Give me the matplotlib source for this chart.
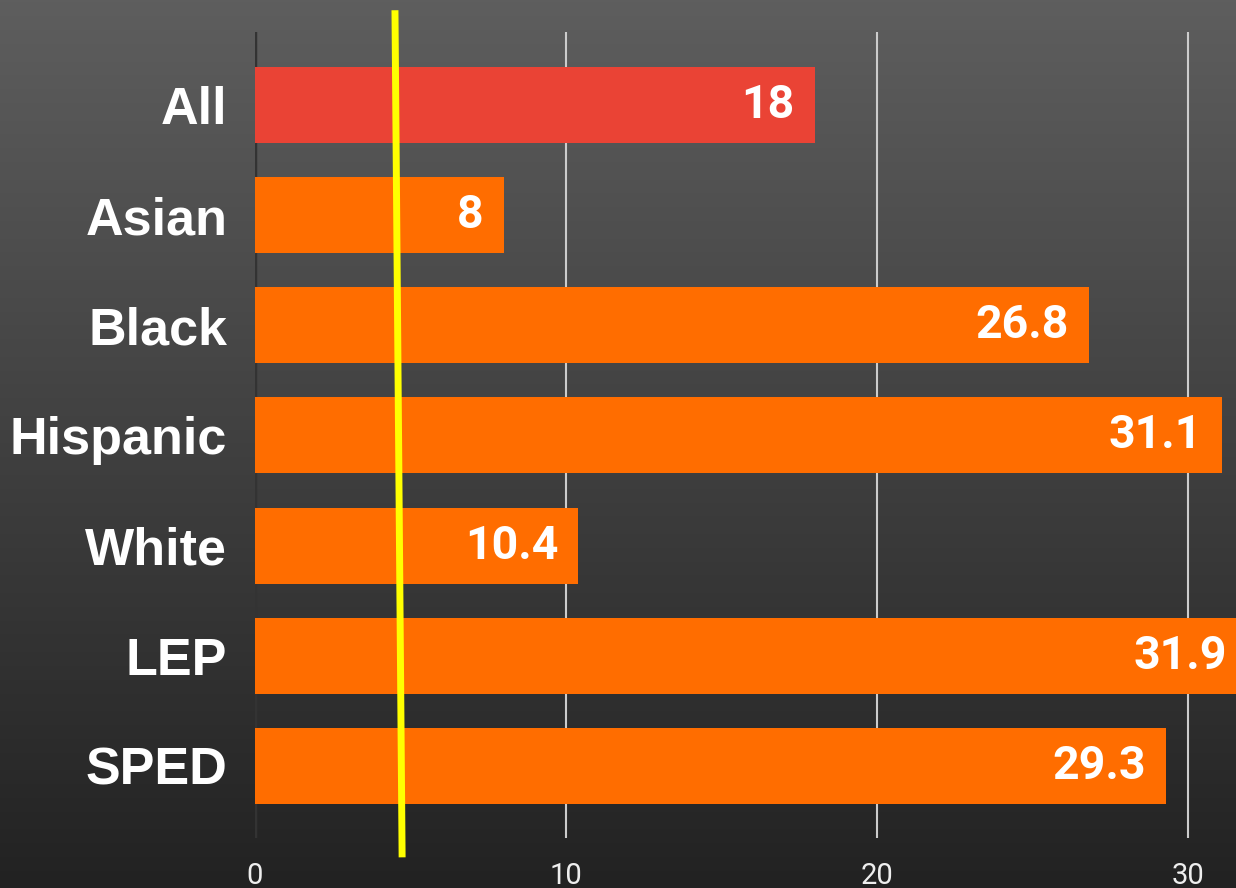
import matplotlib
matplotlib.use('Agg')
import matplotlib.pyplot as plt
import matplotlib.transforms as mtransforms
import numpy as np

groups = ['All', 'Asian', 'Black', 'Hispanic', 'White', 'LEP', 'SPED']
values = [18, 8, 26.8, 31.1, 10.4, 31.9, 29.3]
bar_colors = ['#ea4335', '#ff6d00', '#ff6d00', '#ff6d00', '#ff6d00', '#ff6d00', '#ff6d00']
xticks = [0, 10, 20, 30]
marker_x = [4.5, 4.73]  # yellow reference line, top and bottom

fig = plt.figure(figsize=(12.36, 8.88), dpi=100)

# dark vertical gradient behind everything
bg = fig.add_axes([0, 0, 1, 1], zorder=-10)
grad = np.linspace(0, 1, 256).reshape(-1, 1)
bg.imshow(grad, aspect='auto', cmap=matplotlib.colors.LinearSegmentedColormap.from_list(
    'bg', ['#5e5e5e', '#222222']), extent=[0, 1, 0, 1], origin='upper')
bg.axis('off')

ax = fig.add_axes([255 / 1236, 50 / 888, 981 / 1236, 806 / 888])
ax.patch.set_alpha(0)
xmax = 31.54
ax.set_xlim(0, xmax)
ax.set_ylim(6.654, -0.663)

y = np.arange(len(groups))
ax.barh(y, values, height=0.69, color=bar_colors, zorder=3)

for xt in xticks[1:]:
    ax.axvline(xt, color='#cccccc', lw=1.5, zorder=1)
ax.axvline(0, color='#333333', lw=2.5, zorder=2)

for yi, v in zip(y, values):
    ax.annotate(f'{v:g}', xy=(v, yi), xytext=(-20, 0), textcoords='offset pixels',
                ha='right', va='center', color='white', fontsize=33.5, fontweight='bold',
                family='Roboto', zorder=4, annotation_clip=False)

ax.set_yticks(y)
ax.set_yticklabels(groups, family='Liberation Sans', fontweight='bold', fontsize=37.5, color='white')
ax.set_xticks(xticks)
ax.set_xticklabels([str(t) for t in xticks], family='Roboto', fontsize=21, color='#eeeeee')
ax.tick_params(axis='y', length=0, pad=20)
ax.tick_params(axis='x', length=0, pad=17)
for s in ax.spines.values():
    s.set_visible(False)

trans = mtransforms.blended_transform_factory(ax.transData, ax.transAxes)
ax.plot(marker_x, [1.027, -0.024], color='#ffff00', lw=5, transform=trans, clip_on=False, zorder=6,
        solid_capstyle='butt')

fig.savefig('out.png', dpi=100)
